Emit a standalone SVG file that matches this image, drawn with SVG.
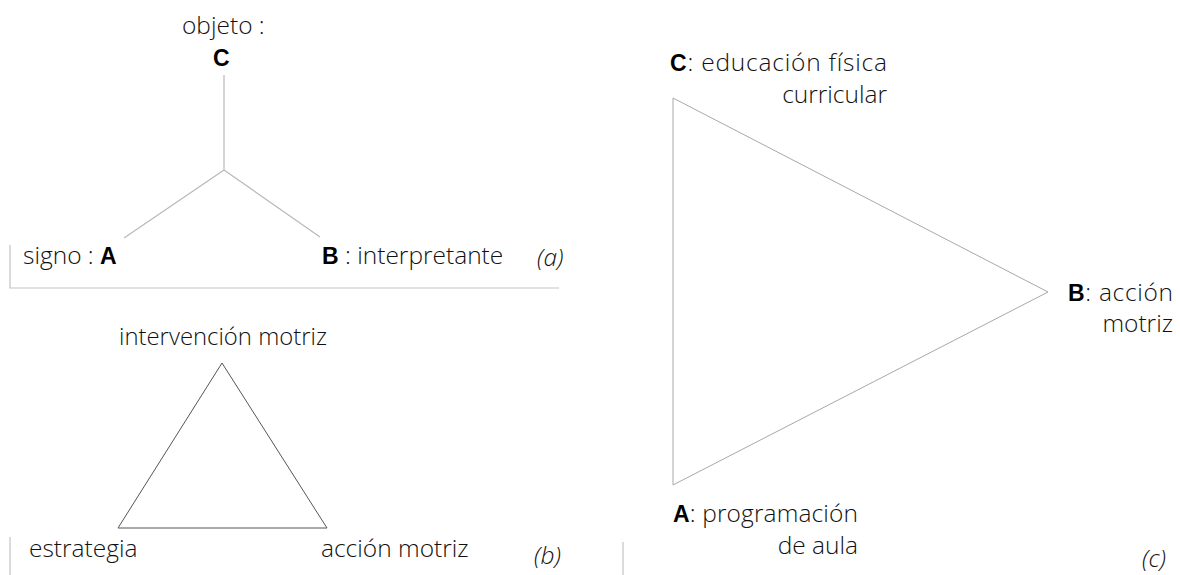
<svg xmlns="http://www.w3.org/2000/svg" width="1180" height="575" viewBox="0 0 1180 575">
<style>
  .t { font-family: "Open Sans", "Liberation Sans", sans-serif; font-weight: 300; font-size: 24.5px; fill: #111; }
  .b { font-family: "Liberation Sans", Arial, sans-serif; font-weight: bold; font-size: 23px; fill: #000; }
  .i { font-style: italic; }
  .e { text-anchor: end; }
  .sep { fill: none; stroke: #c4c4c4; stroke-width: 1.2; }
  .la { fill: none; stroke: #b8b8b8; stroke-width: 1.2; }
  .lb { fill: none; stroke: #555; stroke-width: 1; }
  .lc { fill: none; stroke: #a8a8a8; stroke-width: 1; }
</style>
<rect width="1180" height="575" fill="#fff"/>
<g id="connectors">
  <path class="la" d="M224,75 V170 M224,170 L124,238 M224,170 L320,237"/>
  <polygon id="triangle-b" class="lb" points="222,363 118,528 327,528"/>
  <polygon id="triangle-c" class="lc" points="673,98 673,485 1048,292"/>
  <path class="sep" d="M10,245 V288 H559 M10,537 V575 M623,542 V575"/>
</g>
<g id="node-a-C">
  <text class="t" x="182" y="34">objeto :</text>
  <text class="t b" x="213" y="66">C</text>
</g>
<g id="node-a-A">
  <text class="t" x="23" y="264">signo : <tspan class="b">A</tspan></text>
</g>
<g id="node-a-B">
  <text class="t" x="322" y="264"><tspan class="b">B</tspan> : interpretante</text>
</g>
<g id="label-a"><text class="t i" x="537" y="266">(a)</text></g>
<g id="node-b-top"><text class="t" x="119" y="345" textLength="208" lengthAdjust="spacingAndGlyphs">intervención motriz</text></g>
<g id="node-b-left"><text class="t" x="29" y="557">estrategia</text></g>
<g id="node-b-right"><text class="t" x="321" y="557">acción motriz</text></g>
<g id="label-b"><text class="t i" x="534" y="564">(b)</text></g>
<g id="node-c-C">
  <text class="t" x="670" y="71" textLength="217" lengthAdjust="spacing"><tspan class="b">C</tspan>: educación física</text>
  <text class="t e" x="887" y="103">curricular</text>
</g>
<g id="node-c-B">
  <text class="t" x="1068" y="301" textLength="105" lengthAdjust="spacing"><tspan class="b">B</tspan>: acción</text>
  <text class="t e" x="1173" y="332">motriz</text>
</g>
<g id="node-c-A">
  <text class="t" x="673" y="522" textLength="185" lengthAdjust="spacing"><tspan class="b">A</tspan>: programación</text>
  <text class="t e" x="858" y="554">de aula</text>
</g>
<g id="label-c"><text class="t i" x="1142" y="567">(c)</text></g>
</svg>
